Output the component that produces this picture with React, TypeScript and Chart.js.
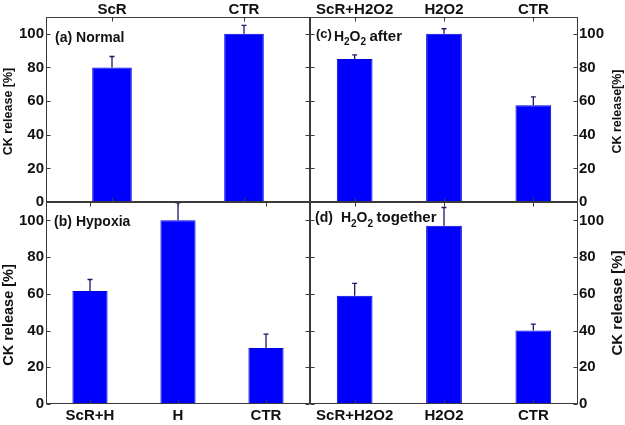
import React, { useEffect, useRef } from 'react';
import { Chart, registerables } from 'chart.js';

Chart.register(...registerables);

const FONT = '"Liberation Sans", Arial, Helvetica, sans-serif';
const W = 625;
const H = 425;

// ---- data ----
const catsA = ['ScR', 'CTR'];
const valsA = [80, 100];
const errA = [6.5, 5];

const catsB = ['ScR+H', 'H', 'CTR'];
const valsB = [61.5, 100, 30.5];
const errB = [6.3, 9.5, 7.5];

const catsC = ['ScR+H2O2', 'H2O2', 'CTR'];
const valsC = [85, 100, 57.5];
const errC = [2.5, 3, 5];

const catsD = ['ScR+H2O2', 'H2O2', 'CTR'];
const valsD = [59, 97, 40];
const errD = [6.7, 10, 3.5];

const yTickVals = [0, 20, 40, 60, 80, 100];
const Y_MAX = 110;

// text run: gap before (px), baseline offset below chart-area top, font size
type Seg = { text: string; gap: number; dy: number; size: number };
type Area = { left: number; top: number; right: number; bottom: number };
type Spec = {
  cats: string[];
  vals: number[];
  errs: number[];
  area: Area;
  xPos: 'top' | 'bottom';
  yPos: 'left' | 'right';
  barPct: number;
  labelX: number;
  label: Seg[];
  yTitle: { text: string; size: number; cx: number; dy: number };
};

const panels: Spec[] = [
  {
    cats: catsA, vals: valsA, errs: errA,
    area: { left: 46, top: 17, right: 310, bottom: 202 },
    xPos: 'top', yPos: 'left', barPct: 0.3,
    labelX: 9,
    label: [
      { text: '(a)', gap: 0, dy: 25, size: 14 },
      { text: 'Normal', gap: 4, dy: 25, size: 14 },
    ],
    yTitle: { text: 'CK release [%]', size: 12.5, cx: 8.5, dy: 2 },
  },
  {
    cats: catsB, vals: valsB, errs: errB,
    area: { left: 46, top: 202, right: 310, bottom: 404 },
    xPos: 'bottom', yPos: 'left', barPct: 0.4,
    labelX: 8,
    label: [
      { text: '(b)', gap: 0, dy: 24, size: 14 },
      { text: 'Hypoxia', gap: 4, dy: 24, size: 14 },
    ],
    yTitle: { text: 'CK release [%]', size: 14.5, cx: 9, dy: 12 },
  },
  {
    cats: catsC, vals: valsC, errs: errC,
    area: { left: 310, top: 17, right: 578, bottom: 202 },
    xPos: 'top', yPos: 'right', barPct: 0.4,
    labelX: 6,
    label: [
      { text: '(c)', gap: 0, dy: 21, size: 13 },
      { text: 'H', gap: 2, dy: 24, size: 14 },
      { text: '2', gap: 0, dy: 28, size: 10 },
      { text: 'O', gap: 0, dy: 24, size: 14 },
      { text: '2', gap: 0, dy: 28, size: 10 },
      { text: 'after', gap: 3.5, dy: 24, size: 15 },
    ],
    yTitle: { text: 'CK release[%]', size: 12.5, cx: 618, dy: 2 },
  },
  {
    cats: catsD, vals: valsD, errs: errD,
    area: { left: 310, top: 202, right: 578, bottom: 404 },
    xPos: 'bottom', yPos: 'right', barPct: 0.4,
    labelX: 5,
    label: [
      { text: '(d)', gap: 0, dy: 20, size: 14 },
      { text: 'H', gap: 8, dy: 20, size: 14 },
      { text: '2', gap: 0, dy: 24.5, size: 10 },
      { text: 'O', gap: 0, dy: 20, size: 14 },
      { text: '2', gap: 0, dy: 24.5, size: 10 },
      { text: 'together', gap: 3.5, dy: 20, size: 15 },
    ],
    yTitle: { text: 'CK release [%]', size: 15, cx: 618, dy: 0 },
  },
];

const decoPlugin = {
  id: 'deco',
  afterDatasetsDraw(chart: any, _args: any, opts: any) {
    const spec: Spec = opts.spec;
    if (!spec) return;
    const { ctx, chartArea: ca, scales } = chart;
    const xs = scales.x;
    const ys = scales.y;
    ctx.save();
    // error bars (upper only)
    ctx.strokeStyle = '#1a1a66';
    ctx.lineWidth = 1.3;
    spec.vals.forEach((v, i) => {
      const px = xs.getPixelForValue(i);
      const y0 = ys.getPixelForValue(v);
      const y1 = ys.getPixelForValue(v + spec.errs[i]);
      ctx.beginPath();
      ctx.moveTo(px, y0);
      ctx.lineTo(px, y1);
      ctx.moveTo(px - 2.5, y1);
      ctx.lineTo(px + 2.5, y1);
      ctx.stroke();
    });
    // frame
    ctx.strokeStyle = '#3a3a3a';
    ctx.lineWidth = 1;
    const l = Math.round(ca.left) + 0.5;
    const r = Math.round(ca.right) - 0.5;
    const t = Math.round(ca.top) + 0.5;
    const b = Math.round(ca.bottom) - 0.5;
    ctx.strokeRect(l, t, r - l, b - t);
    // inward ticks
    const tl = 4;
    ctx.beginPath();
    yTickVals.forEach((v) => {
      const py = Math.round(ys.getPixelForValue(v)) + 0.5;
      ctx.moveTo(l, py);
      ctx.lineTo(l + tl, py);
      ctx.moveTo(r, py);
      ctx.lineTo(r - tl, py);
    });
    spec.cats.forEach((_c, i) => {
      const px = Math.round(xs.getPixelForValue(i)) + 0.5;
      ctx.moveTo(px, t);
      ctx.lineTo(px, t + tl);
      ctx.moveTo(px, b);
      ctx.lineTo(px, b - tl);
    });
    ctx.stroke();
    ctx.restore();
  },
  afterDraw(chart: any, _args: any, opts: any) {
    const spec: Spec = opts.spec;
    if (!spec) return;
    const { ctx, chartArea: ca } = chart;
    ctx.save();
    ctx.fillStyle = '#111';
    ctx.textAlign = 'left';
    ctx.textBaseline = 'alphabetic';
    let x = ca.left + spec.labelX;
    spec.label.forEach((s) => {
      ctx.font = `bold ${s.size}px ${FONT}`;
      x += s.gap;
      ctx.fillText(s.text, x, ca.top + s.dy);
      x += ctx.measureText(s.text).width;
    });
    // y title, rotated to read upward
    const yt = spec.yTitle;
    ctx.font = `bold ${yt.size}px ${FONT}`;
    ctx.translate(yt.cx, (ca.top + ca.bottom) / 2 + yt.dy);
    ctx.rotate(-Math.PI / 2);
    ctx.textAlign = 'center';
    ctx.textBaseline = 'middle';
    ctx.fillText(yt.text, 0, 0);
    ctx.restore();
  },
};

function Panel({ spec }: { spec: Spec }) {
  const ref = useRef<HTMLCanvasElement | null>(null);
  useEffect(() => {
    if (!ref.current) return;
    const a = spec.area;
    const xSize = spec.xPos === 'top' ? a.top : H - a.bottom;
    const ySize = spec.yPos === 'left' ? a.left : W - a.right;
    const chart = new Chart(ref.current, {
      type: 'bar',
      data: {
        labels: spec.cats,
        datasets: [
          {
            data: spec.vals,
            backgroundColor: '#0000ff',
            borderColor: '#0000d8',
            borderWidth: 1,
            categoryPercentage: 1,
            barPercentage: spec.barPct,
          },
        ],
      },
      plugins: [decoPlugin],
      options: {
        animation: false,
        responsive: false,
        devicePixelRatio: window.devicePixelRatio || 1,
        layout: {
          padding: {
            left: spec.yPos === 'left' ? 0 : a.left,
            right: spec.yPos === 'right' ? 0 : W - a.right,
            top: spec.xPos === 'top' ? 0 : a.top,
            bottom: spec.xPos === 'bottom' ? 0 : H - a.bottom,
          },
        },
        plugins: {
          legend: { display: false },
          tooltip: { enabled: false },
          deco: { spec },
        } as any,
        scales: {
          x: {
            type: 'category',
            position: spec.xPos,
            offset: true,
            grid: { display: false, drawTicks: false },
            border: { display: false },
            ticks: {
              autoSkip: false,
              maxRotation: 0,
              padding: spec.xPos === 'top' ? -2 : 3,
              color: '#111',
              font: { family: FONT, size: 15, weight: 'bold' },
            },
            afterFit: (s: any) => {
              s.height = xSize;
            },
          },
          y: {
            type: 'linear',
            position: spec.yPos,
            min: 0,
            max: Y_MAX,
            grid: { display: false, drawTicks: false },
            border: { display: false },
            ticks: {
              stepSize: 20,
              padding: spec.yPos === 'left' ? 2 : 1,
              color: '#111',
              font: { family: FONT, size: 15, weight: 'bold' },
              callback: (v: any) => (yTickVals.includes(Number(v)) ? String(v) : ''),
            },
            afterFit: (s: any) => {
              s.width = ySize;
            },
          },
        } as any,
      },
    });
    return () => chart.destroy();
  }, [spec]);
  return (
    <canvas
      ref={ref}
      width={W}
      height={H}
      style={{ position: 'absolute', left: 0, top: 0, width: W, height: H }}
    />
  );
}

export default function App() {
  return (
    <div
      style={{
        position: 'absolute',
        left: 0,
        top: 0,
        width: W,
        height: H,
        background: '#fff',
        overflow: 'hidden',
      }}
    >
      {panels.map((p, i) => (
        <Panel key={i} spec={p} />
      ))}
    </div>
  );
}
